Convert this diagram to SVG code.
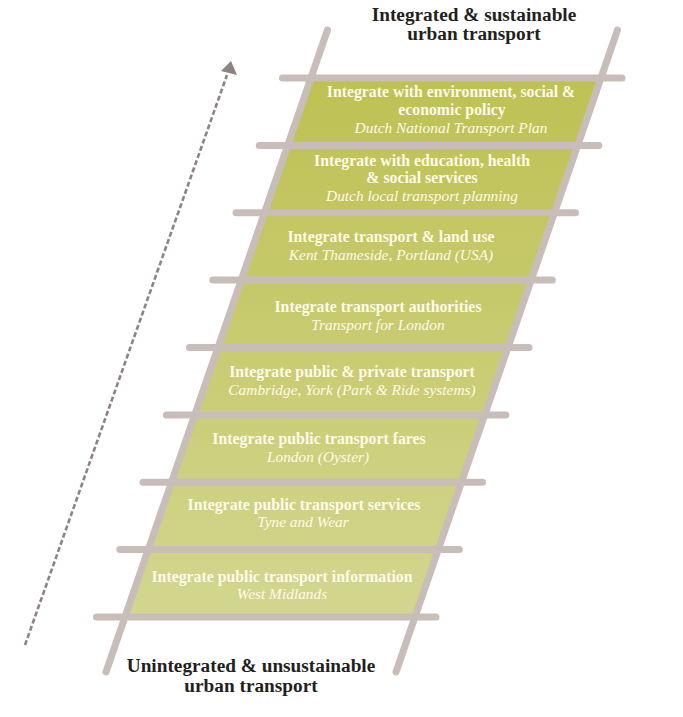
<svg xmlns="http://www.w3.org/2000/svg" width="683" height="717" viewBox="0 0 683 717">
<defs>
<linearGradient id="g" gradientUnits="userSpaceOnUse" x1="0" y1="78" x2="0" y2="617">
<stop offset="0" stop-color="#bec152"/>
<stop offset="1" stop-color="#d3d68f"/>
</linearGradient>
<style>
.panel{fill:url(#g)}
.rail{stroke:#c9bdb9;stroke-width:7;stroke-linecap:round;fill:none}
.b{font-family:"Liberation Serif","DejaVu Serif",serif;font-weight:bold;font-size:15.8px;fill:#fdfbea;text-anchor:middle}
.i{font-family:"Liberation Serif","DejaVu Serif",serif;font-style:italic;font-size:15.4px;fill:#fdfbea;text-anchor:middle}
.t{font-family:"Liberation Serif","DejaVu Serif",serif;font-weight:bold;font-size:19.3px;fill:#241f20;text-anchor:middle}
</style>
</defs>
<rect width="683" height="717" fill="#ffffff"/>
<g id="panels">
<polygon class="panel" points="311,78 601,78 577.8,145.4 287.8,145.4"/>
<polygon class="panel" points="287.8,145.4 577.8,145.4 554.5,212.75 264.5,212.75"/>
<polygon class="panel" points="264.5,212.75 554.5,212.75 531.3,280.1 241.3,280.1"/>
<polygon class="panel" points="241.3,280.1 531.3,280.1 508,347.5 218,347.5"/>
<polygon class="panel" points="218,347.5 508,347.5 484.8,414.9 194.8,414.9"/>
<polygon class="panel" points="194.8,414.9 484.8,414.9 461.5,482.25 171.5,482.25"/>
<polygon class="panel" points="171.5,482.25 461.5,482.25 438.3,549.6 148.3,549.6"/>
<polygon class="panel" points="148.3,549.6 438.3,549.6 415,617 125,617"/>
</g>
<g id="connectors">
<line class="rail" x1="327.5" y1="30" x2="106" y2="672"/>
<line class="rail" x1="617.5" y1="30" x2="396" y2="672"/>
<line class="rail" x1="282.5" y1="78" x2="622" y2="78"/>
<line class="rail" x1="259.3" y1="145.4" x2="598.8" y2="145.4"/>
<line class="rail" x1="236" y1="212.75" x2="575.5" y2="212.75"/>
<line class="rail" x1="212.8" y1="280.1" x2="552.3" y2="280.1"/>
<line class="rail" x1="189.5" y1="347.5" x2="529" y2="347.5"/>
<line class="rail" x1="166.3" y1="414.9" x2="505.8" y2="414.9"/>
<line class="rail" x1="143" y1="482.25" x2="482.5" y2="482.25"/>
<line class="rail" x1="119.8" y1="549.6" x2="459.3" y2="549.6"/>
<line class="rail" x1="96.5" y1="617" x2="436" y2="617"/>
<line x1="25" y1="645" x2="227" y2="75" stroke="#8c8480" stroke-width="2.6" stroke-dasharray="5 2.6"/>
<polygon points="231,61 221,71 237,75" fill="#8c8480"/>
</g>
<g id="title-top">
<text class="t" x="474" y="21">Integrated &amp; sustainable</text>
<text class="t" x="474" y="40">urban transport</text>
</g>
<g id="title-bottom">
<text class="t" x="251" y="672">Unintegrated &amp; unsustainable</text>
<text class="t" x="251" y="692">urban transport</text>
</g>
<g id="step1">
<text class="b" x="451" y="97">Integrate with environment, social &amp;</text>
<text class="b" x="452" y="115">economic policy</text>
<text class="i" x="451" y="133">Dutch National Transport Plan</text>
</g>
<g id="step2">
<text class="b" x="422" y="166">Integrate with education, health</text>
<text class="b" x="422" y="183">&amp; social services</text>
<text class="i" x="422" y="201">Dutch local transport planning</text>
</g>
<g id="step3">
<text class="b" x="391" y="242">Integrate transport &amp; land use</text>
<text class="i" x="391" y="260">Kent Thameside, Portland (USA)</text>
</g>
<g id="step4">
<text class="b" x="378" y="312">Integrate transport authorities</text>
<text class="i" x="378" y="330">Transport for London</text>
</g>
<g id="step5">
<text class="b" x="352" y="377">Integrate public &amp; private transport</text>
<text class="i" x="352" y="395">Cambridge, York (Park &amp; Ride systems)</text>
</g>
<g id="step6">
<text class="b" x="319" y="444">Integrate public transport fares</text>
<text class="i" x="318" y="462">London (Oyster)</text>
</g>
<g id="step7">
<text class="b" x="304" y="510">Integrate public transport services</text>
<text class="i" x="303" y="527">Tyne and Wear</text>
</g>
<g id="step8">
<text class="b" x="282" y="582">Integrate public transport information</text>
<text class="i" x="282" y="599">West Midlands</text>
</g>
</svg>
